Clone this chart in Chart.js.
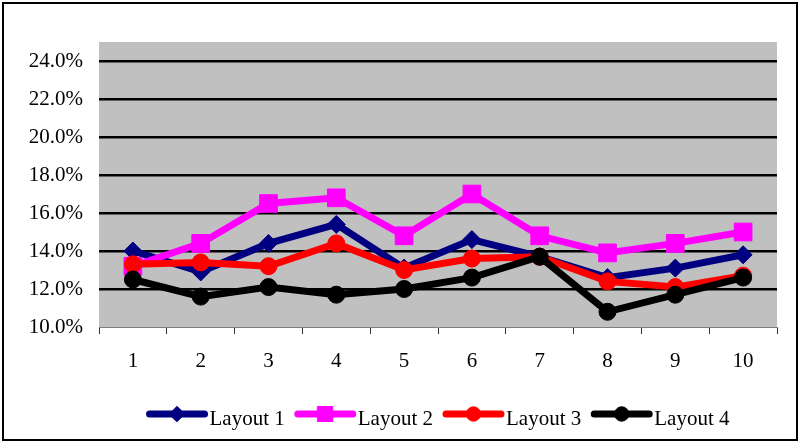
<!DOCTYPE html>
<html>
<head>
<meta charset="utf-8">
<title>Layout comparison</title>
<script src="https://cdn.jsdelivr.net/npm/chart.js@4"></script>
<style>
  html, body { margin: 0; padding: 0; background: #fff; }
  #wrap { position: relative; width: 799px; height: 443px; }
  canvas { display: block; }
</style>
</head>
<body>
<div id="wrap"><canvas id="chart" width="799" height="443"></canvas></div>
<script>
// Category labels along the x axis
const categories = ['1', '2', '3', '4', '5', '6', '7', '8', '9', '10'];

// Series values, in percent
const layout1 = [14.0, 12.9, 14.4, 15.4, 13.1, 14.6, 13.7, 12.6, 13.1, 13.8];
const layout2 = [13.2, 14.4, 16.5, 16.8, 14.8, 17.0, 14.8, 13.9, 14.4, 15.0];
const layout3 = [13.3, 13.4, 13.2, 14.4, 13.0, 13.6, 13.7, 12.4, 12.1, 12.7];
const layout4 = [12.5, 11.6, 12.1, 11.7, 12.0, 12.6, 13.7, 10.8, 11.7, 12.6];

const seriesNames = ['Layout 1', 'Layout 2', 'Layout 3', 'Layout 4'];

// Y axis range and label values (percent)
const yMin = 10;
const yMax = 25;
const yTickValues = [10, 12, 14, 16, 18, 20, 22, 24];

const FONT = '"Liberation Serif", "Times New Roman", serif';

function series(label, data, color, style, radius, order) {
  return {
    label: label,
    data: data,
    borderColor: color,
    backgroundColor: color,
    borderWidth: 7,
    pointStyle: style,
    pointRadius: radius,
    pointHoverRadius: radius,
    pointBorderWidth: 1,
    pointBorderColor: color,
    pointBackgroundColor: color,
    tension: 0,
    fill: false,
    order: order
  };
}

// Grey plot background and the outer frame
const frame = {
  id: 'frame',
  beforeDraw(chart) {
    const { ctx, chartArea: a } = chart;
    ctx.save();
    ctx.fillStyle = '#C0C0C0';
    ctx.fillRect(a.left, a.top, a.right - a.left, a.bottom - a.top);
    ctx.restore();
  },
  afterDraw(chart) {
    const ctx = chart.ctx;
    ctx.save();
    ctx.strokeStyle = '#000';
    ctx.lineWidth = 2;
    ctx.strokeRect(3, 3, 794, 437);
    ctx.restore();
  }
};

// Legend below the axis: line sample with marker, then the series name
const lineLegend = {
  id: 'lineLegend',
  afterDraw(chart) {
    const { ctx, chartArea: a } = chart;
    const sets = chart.data.datasets;
    const sampleW = 61, gapText = 2, gapItem = 10;
    const lineY = 414, textY = 425;
    ctx.save();
    ctx.font = '21px ' + FONT;
    const widths = sets.map(d => ctx.measureText(d.label).width);
    let total = 0;
    widths.forEach((w, i) => { total += sampleW + gapText + w + (i < widths.length - 1 ? gapItem : 0); });
    let x = (a.left + a.right) / 2 - total / 2;
    sets.forEach((d, i) => {
      ctx.strokeStyle = d.borderColor;
      ctx.lineWidth = 7;
      ctx.lineCap = 'round';
      ctx.beginPath();
      ctx.moveTo(x + 3, lineY);
      ctx.lineTo(x + sampleW - 3, lineY);
      ctx.stroke();
      ctx.fillStyle = d.backgroundColor;
      ctx.strokeStyle = d.borderColor;
      ctx.lineWidth = 1;
      Chart.helpers.drawPoint(ctx, {
        pointStyle: d.pointStyle,
        radius: d.pointRadius * 0.85,
        rotation: 0,
        borderWidth: 1
      }, x + sampleW / 2, lineY);
      ctx.fillStyle = '#000';
      ctx.textBaseline = 'alphabetic';
      ctx.textAlign = 'left';
      ctx.fillText(d.label, x + sampleW + gapText, textY);
      x += sampleW + gapText + widths[i] + gapItem;
    });
    ctx.restore();
  }
};

new Chart(document.getElementById('chart'), {
  type: 'line',
  data: {
    labels: categories,
    datasets: [
      series(seriesNames[0], layout1, '#000080', 'rectRot', 9, 4),
      series(seriesNames[1], layout2, '#FF00FF', 'rect', 12.5, 3),
      series(seriesNames[2], layout3, '#FF0000', 'circle', 8.5, 2),
      series(seriesNames[3], layout4, '#000000', 'circle', 8.5, 1)
    ]
  },
  options: {
    responsive: false,
    animation: false,
    devicePixelRatio: 1,
    layout: { padding: { left: 0, top: 42, right: 22, bottom: 0 } },
    plugins: {
      legend: { display: false },
      tooltip: { enabled: false }
    },
    scales: {
      x: {
        offset: true,
        grid: {
          offset: true,
          drawOnChartArea: false,
          drawTicks: true,
          tickLength: 7,
          color: '#333',
          lineWidth: 1
        },
        border: { display: true, color: '#808080', width: 1 },
        ticks: {
          color: '#000',
          font: { family: FONT, size: 21 },
          padding: 15,
          maxRotation: 0,
          autoSkip: false
        },
        afterFit(scale) { scale.height = 116; }
      },
      y: {
        min: yMin,
        max: yMax,
        ticks: {
          color: '#000',
          font: { family: FONT, size: 21 },
          padding: 16,
          callback: v => v.toFixed(1) + '%'
        },
        afterBuildTicks(scale) {
          scale.ticks = yTickValues.map(v => ({ value: v }));
        },
        grid: {
          drawTicks: false,
          color: ctx => (ctx.tick && ctx.tick.value === yMin) ? 'rgba(0,0,0,0)' : '#000',
          lineWidth: 2.5
        },
        border: { display: false },
        afterFit(scale) { scale.width = 99; }
      }
    }
  },
  plugins: [frame, lineLegend]
});
</script>
</body>
</html>
